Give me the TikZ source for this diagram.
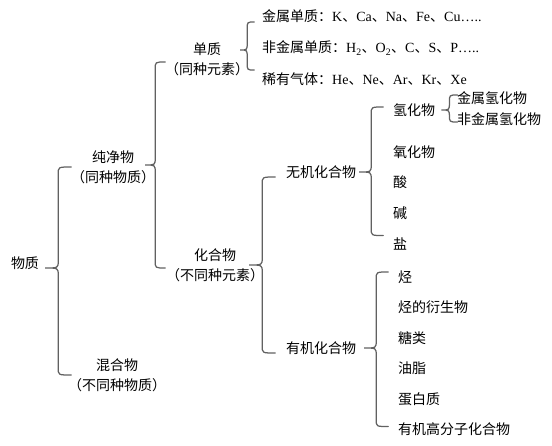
\documentclass[tikz,border=0pt]{standalone}
\usepackage{fontspec}
\setmainfont{Liberation Serif}
\newfontfamily\cjk{Noto Sans CJK SC}
\newfontfamily\cjkh[RawFeature={+halt}]{Noto Sans CJK SC}
\usetikzlibrary{calc,%
                positioning}

\newcommand{\lat}[1]{{\rmfamily #1}}
\newcommand{\kh}[1]{{\cjkh （}#1{\cjkh ）}}
% brace: [half width]{tip}{top end}{bottom end}
\newcommand{\kuohao}[4][10pt]{%
  \draw[kuo] let \p1=#2, \p2=#3, \p3=#4 in
    (\x1+2*#1,\y2) .. controls (\x1+#1,\y2) .. (\x1+#1,\y2-7pt)
    -- (\x1+#1,\y1+7pt) .. controls (\x1+#1,\y1) .. (\x1,\y1)
    .. controls (\x1+#1,\y1) .. (\x1+#1,\y1-7pt)
    -- (\x1+#1,\y3+7pt) .. controls (\x1+#1,\y3) .. (\x1+2*#1,\y3);}

\begin{document}
\begin{tikzpicture}[x=1pt,y=-1pt]
  \tikzset{node distance = 30.5pt}
  \tikzset{txt/.style  = {font=\cjk\fontsize{14}{20}\selectfont, inner sep=0pt, align=center},
           item/.style = {txt, anchor=west, align=left},
           kuo/.style  = {draw=black!62, line width=1.25pt, line cap=round}}
  \useasboundingbox (0,0) rectangle (552,445);

  \node[txt] (wuzhi) at (25,263) {物质};
  \node[txt] (chunjing) at (113,167) {纯净物\\\kh{同种物质}};
  \node[txt] (hunhe) at (117,375) {混合物\\\kh{不同种物质}};
  \node[txt] (danzhi) at (207,59) {单质\\\kh{同种元素}};
  \node[txt] (huahe) at (215,265) {化合物\\\kh{不同种元素}};
  \node[txt] (wuji) at (321,172) {无机化合物};
  \node[txt] (youji) at (321,348) {有机化合物};

  % simple substances
  \node[item] (jinshu) at (262,16) {金属单质：\lat{K}、\lat{Ca}、\lat{Na}、\lat{Fe}、\lat{Cu…..}};
  \node[item] (feijinshu) at (262,48) {非金属单质：\lat{H\textsubscript{2}}、\lat{O\textsubscript{2}}、\lat{C}、\lat{S}、\lat{P…..}};
  \node[item] (xiyou) at (262,79) {稀有气体：\lat{He}、\lat{Ne}、\lat{Ar}、\lat{Kr}、\lat{Xe}};

  % inorganic
  \node[item] (qinghua) at (393,110) {氢化物};
  \node[item, below=42pt of qinghua.west, anchor=west] (yanghua) {氧化物};
  \node[item, below=of yanghua.west, anchor=west] (suan) {酸};
  \node[item, below=of suan.west, anchor=west] (jian) {碱};
  \node[item, below=of jian.west, anchor=west] (yan) {盐};
  \node[item] (jinqing) at (457,98) {金属氢化物};
  \node[item] (feiqing) at (457,119) {非金属氢化物};

  % organic
  \node[item] (ting) at (398,277) {烃};
  \node[item, below=of ting.west, anchor=west] (tingyan) {烃的衍生物};
  \node[item, below=of tingyan.west, anchor=west] (tanglei) {糖类};
  \node[item, below=of tanglei.west, anchor=west] (youzhi) {油脂};
  \node[item, below=of youzhi.west, anchor=west] (danbai) {蛋白质};
  \node[item, below=of danbai.west, anchor=west] (gaofenzi) {有机高分子化合物};

  \kuohao[13pt]{($(wuzhi.east)+(6,5)$)}{(chunjing.west)}{(hunhe.west)}
  \kuohao{($(chunjing.east)+(-3,-2)$)}{($(danzhi.west)+(0,3)$)}{($(huahe.west)+(0,3)$)}
  \kuohao[7pt]{($(danzhi.east)+(-2,-9)$)}{($(jinshu.west)+(0,6)$)}{($(xiyou.west)+(0,-9)$)}
  \kuohao[13pt]{($(huahe.east)+(-8,0)$)}{($(wuji.west)+(0,5)$)}{($(youji.west)+(0,5)$)}
  \kuohao[12pt]{($(wuji.east)+(3,0)$)}{($(qinghua.west)+(0,-3)$)}{($(yan.west)+(0,-8)$)}
  \kuohao[8pt]{($(qinghua.east)+(6,0)$)}{($(jinqing.west)+(0,-3)$)}{($(feiqing.west)+(0,3)$)}
  \kuohao[12pt]{($(youji.east)+(8,0)$)}{($(ting.west)+(0,-5)$)}{($(gaofenzi.west)+(0,-3)$)}
  %\kuohao{(hunhe.east)}{(hunhe.north)}{(hunhe.south)}
\end{tikzpicture}
\end{document}
